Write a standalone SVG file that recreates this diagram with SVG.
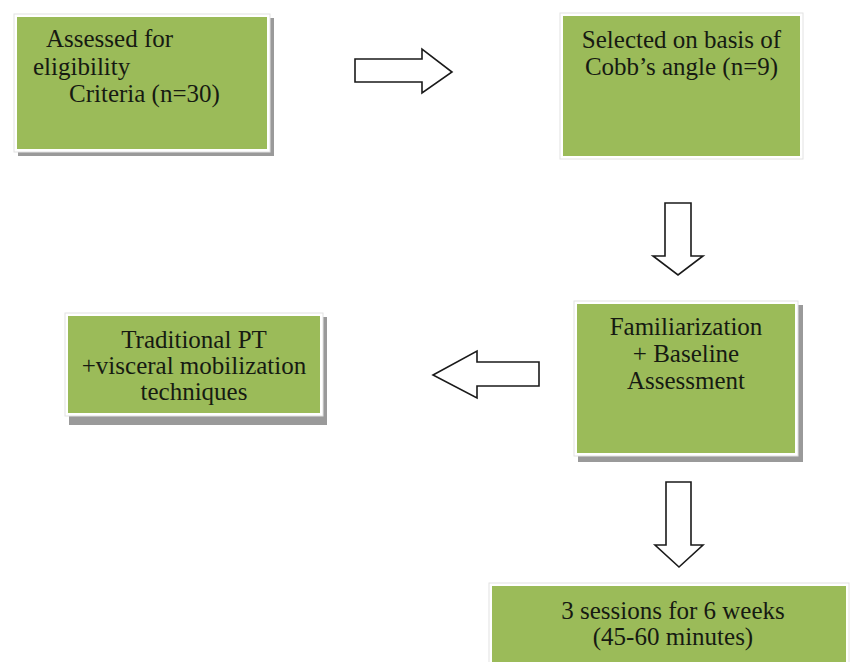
<svg xmlns="http://www.w3.org/2000/svg" width="850" height="662" viewBox="0 0 850 662">
<style>
.sh{fill:#9a9a9a}
.fr{fill:#ffffff;stroke:#e2e2e2;stroke-width:1}
.bx{fill:#9bbb59}
.t{font-family:"Liberation Serif","Times New Roman",serif;font-size:25px;fill:#161a12}
.c{text-anchor:middle}
.ar{fill:#ffffff;stroke:#1a1a1a;stroke-width:1.6;stroke-linejoin:miter}
</style>
<rect width="850" height="662" fill="#ffffff"/>
<g id="node-assessed">
<rect class="sh" x="18" y="18" width="256" height="138"/>
<rect class="fr" x="14" y="14" width="256" height="138"/>
<rect class="bx" x="17" y="17" width="250" height="132"/>
<text class="t" x="46" y="47">Assessed for</text>
<text class="t" x="33" y="74.5">eligibility</text>
<text class="t" x="69" y="102">Criteria (n=30)</text>
</g>
<g id="node-selected">
<rect class="fr" x="560" y="13" width="243" height="146"/>
<rect class="bx" x="563" y="16" width="237" height="140"/>
<text class="t c" x="681.5" y="48">Selected on basis of</text>
<text class="t c" x="681.5" y="75">Cobb’s angle (n=9)</text>
</g>
<g id="node-traditional">
<rect class="sh" x="69" y="317" width="258" height="108"/>
<rect class="fr" x="65" y="313" width="258" height="103"/>
<rect class="bx" x="68" y="316" width="252" height="97"/>
<text class="t c" x="194" y="348">Traditional PT</text>
<text class="t c" x="194" y="374">+visceral mobilization</text>
<text class="t c" x="194" y="400">techniques</text>
</g>
<g id="node-familiarization">
<rect class="sh" x="578" y="305" width="225" height="157"/>
<rect class="fr" x="574" y="301" width="224" height="155"/>
<rect class="bx" x="577" y="304" width="218" height="149"/>
<text class="t c" x="686" y="335">Familiarization</text>
<text class="t c" x="686" y="362">+ Baseline</text>
<text class="t c" x="686" y="389">Assessment</text>
</g>
<g id="node-sessions">
<rect class="fr" x="489" y="583" width="360" height="82"/>
<rect class="bx" x="492" y="586" width="354" height="80"/>
<text class="t c" x="673" y="619">3 sessions for 6 weeks</text>
<text class="t c" x="673" y="645">(45-60 minutes)</text>
</g>
<g id="connectors">
<polygon class="ar" points="355,59 422,59 422,49 452,72 422,93 422,82 355,82"/>
<polygon class="ar" points="665,203 691,203 691,256 703,256 678,275 653,256 665,256"/>
<polygon class="ar" points="539,362 477,362 477,351 433,375 477,398 477,386 539,386"/>
<polygon class="ar" points="666,482 691,482 691,545 703,545 679,567 655,545 666,545"/>
</g>
</svg>
